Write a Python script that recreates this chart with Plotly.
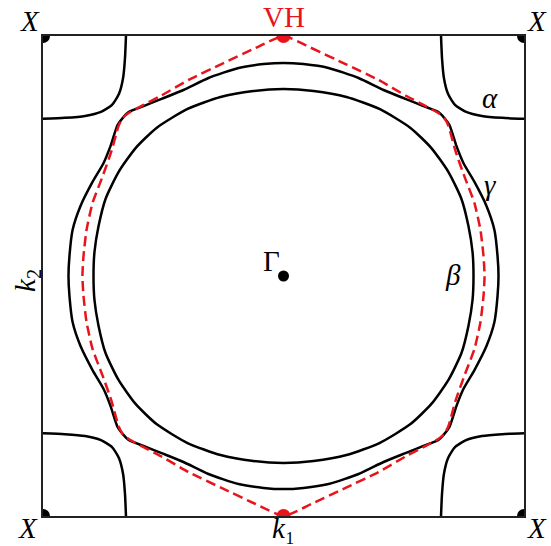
import plotly.graph_objects as go

# Fermi surface, one quadrant (kx >= 0, ky >= 0), k in units of the zone half-width
gamma_kx = [0.000, 0.083, 0.187, 0.312, 0.416, 0.507, 0.582, 0.644, 0.669, 0.690, 0.719, 0.748, 0.794, 0.844, 0.877, 0.890, 0.894]
gamma_ky = [0.888, 0.883, 0.867, 0.825, 0.775, 0.738, 0.708, 0.683, 0.658, 0.629, 0.542, 0.471, 0.392, 0.292, 0.192, 0.083, 0.000]

beta_kx = [0.000, 0.125, 0.262, 0.399, 0.528, 0.615, 0.686, 0.740, 0.769, 0.786, 0.790]
beta_ky = [0.779, 0.771, 0.746, 0.696, 0.617, 0.533, 0.433, 0.321, 0.208, 0.100, 0.000]

vh_kx = [0.000, 0.116, 0.258, 0.395, 0.511, 0.582, 0.644, 0.669, 0.686, 0.715, 0.753, 0.794, 0.819, 0.832, 0.836]
vh_ky = [1.000, 0.950, 0.883, 0.817, 0.750, 0.713, 0.679, 0.658, 0.625, 0.521, 0.413, 0.304, 0.192, 0.079, 0.000]

# alpha pocket, distance from the X corner
alpha_dx = [0.345, 0.341, 0.333, 0.316, 0.287, 0.241, 0.175, 0.091, 0.000]
alpha_dy = [0.000, 0.091, 0.175, 0.241, 0.287, 0.316, 0.333, 0.341, 0.345]

corners_x = [-1, 1, -1, 1]
corners_y = [1, 1, -1, -1]


def full_contour(qx, qy):
    # mirror the quadrant into a closed curve
    xs = list(qx) + [x for x in qx[::-1]][1:] + [-x for x in qx][1:] + [-x for x in qx[::-1]][1:]
    ys = list(qy) + [-y for y in qy[::-1]][1:] + [-y for y in qy][1:] + [y for y in qy[::-1]][1:]
    return xs, ys


fig = go.Figure()

for sx, sy in zip(corners_x, corners_y):
    fig.add_trace(go.Scatter(
        x=[sx * (1 - d) for d in alpha_dx], y=[sy * (1 - d) for d in alpha_dy],
        mode="lines", line=dict(color="black", width=2.5, shape="spline", smoothing=0.6),
        hoverinfo="skip"))

for qx, qy in [(gamma_kx, gamma_ky), (beta_kx, beta_ky)]:
    xs, ys = full_contour(qx, qy)
    fig.add_trace(go.Scatter(
        x=xs, y=ys, mode="lines",
        line=dict(color="black", width=2.5, shape="spline", smoothing=0.6),
        hoverinfo="skip"))

xs, ys = full_contour(vh_kx, vh_ky)
fig.add_trace(go.Scatter(
    x=xs, y=ys, mode="lines",
    line=dict(color="#e8141c", width=2.5, dash="10px,5px", shape="spline", smoothing=0.5),
    hoverinfo="skip"))

# points: X corners, Gamma, VH
fig.add_trace(go.Scatter(x=corners_x, y=corners_y, mode="markers",
                         marker=dict(color="black", size=14), cliponaxis=True, hoverinfo="skip"))
fig.add_trace(go.Scatter(x=[0], y=[0], mode="markers",
                         marker=dict(color="black", size=11), hoverinfo="skip"))
fig.add_trace(go.Scatter(x=[0, 0], y=[1, -1], mode="markers",
                         marker=dict(color="#e8141c", size=14), cliponaxis=True, hoverinfo="skip"))

serif = "Liberation Serif, DejaVu Serif, serif"
font = dict(family=serif, size=29, color="black")
# positions in paper units (0..1 spans the zone)
ann = [
    dict(x=-0.027, y=1.032, text="<i>X</i>"),
    dict(x=1.027, y=1.032, text="<i>X</i>"),
    dict(x=-0.031, y=-0.062, text="<i>X</i>", yanchor="bottom"),
    dict(x=1.027, y=-0.062, text="<i>X</i>", yanchor="bottom"),
    dict(x=0.501, y=1.039, text="VH", font=dict(family=serif, size=29, color="#e8141c")),
    dict(x=0.475, y=0.532, text="Γ"),
    dict(x=0.929, y=0.871, text="<i>α</i>"),
    dict(x=0.931, y=0.69, text="<i>γ</i>"),
    dict(x=0.852, y=0.502, text="<i>β</i>"),
    dict(x=0.499, y=-0.062, text="<i>k</i>₁", yanchor="bottom"),
    dict(x=-0.033, y=0.49, text="<i>k</i><sub>2</sub>", textangle=-90),
]
for a in ann:
    a.setdefault("font", font)
    a.setdefault("yanchor", "middle")
    fig.add_annotation(xref="paper", yref="paper", showarrow=False, xanchor="center", **a)

fig.update_layout(
    width=551, height=546,
    margin=dict(l=43, r=27, t=36, b=30),
    plot_bgcolor="white", paper_bgcolor="white",
    showlegend=False,
    xaxis=dict(range=[-1, 1], showgrid=False, zeroline=False, showticklabels=False,
               showline=True, mirror=True, linecolor="#222", linewidth=1.5, ticks=""),
    yaxis=dict(range=[-1, 1], showgrid=False, zeroline=False, showticklabels=False,
               showline=True, mirror=True, linecolor="#222", linewidth=1.5, ticks=""),
)

# drop the page's default body margin so the figure fills the window
fig.write_html("out.html", config={"displayModeBar": False},
               post_script="document.body.style.margin='0';")
